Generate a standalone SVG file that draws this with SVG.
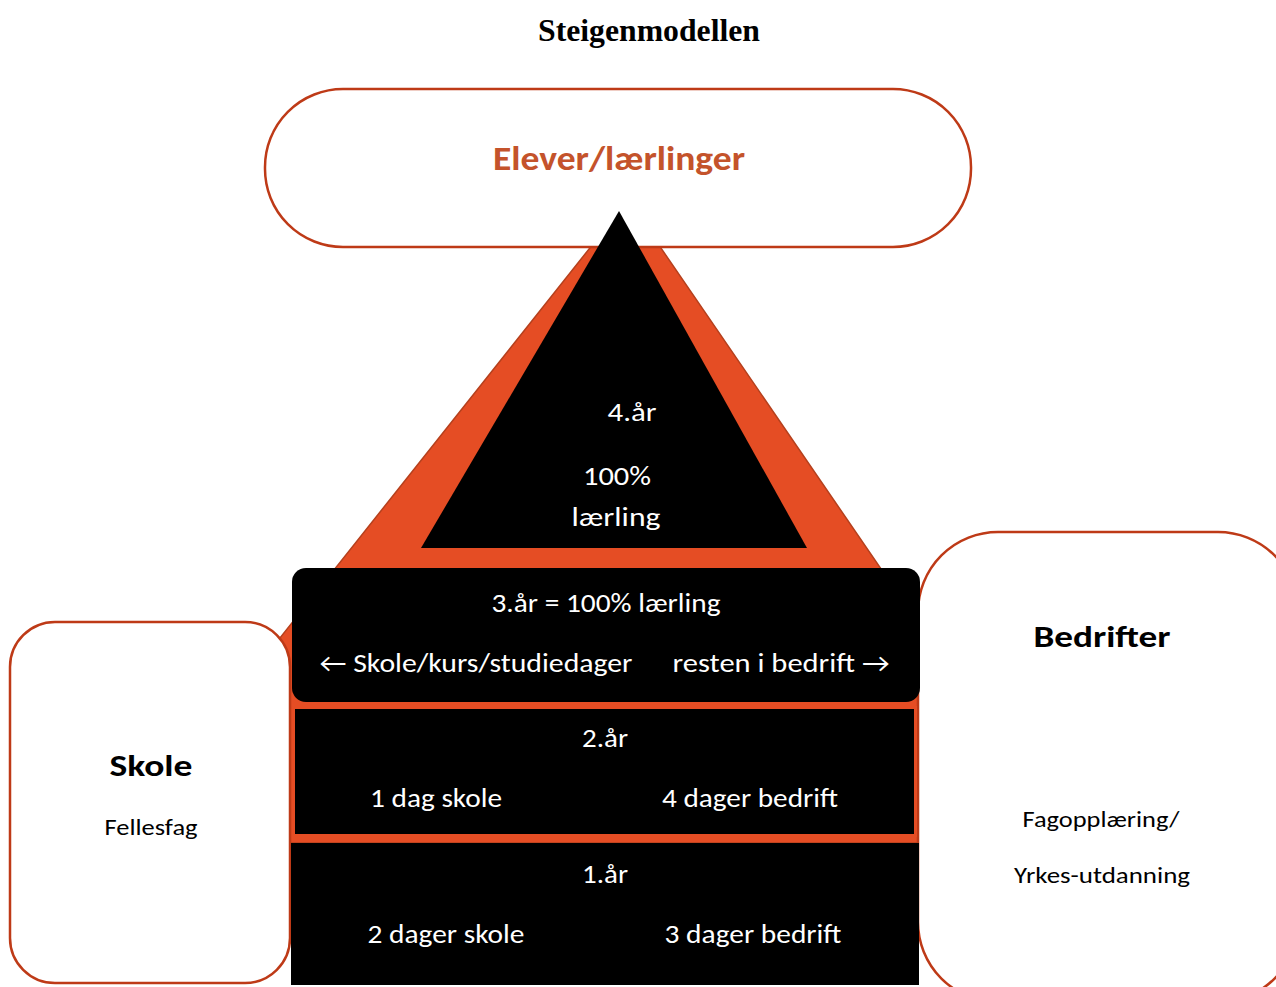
<svg xmlns="http://www.w3.org/2000/svg" width="1276" height="987" viewBox="0 0 1276 987">
<style>
.box{fill:#fff;stroke:#BE3A17;stroke-width:2.5}
.blk{fill:#000}
.w{fill:#fff;font-family:Carlito,Calibri,Lato,"DejaVu Sans",sans-serif;font-size:27px;text-anchor:middle}
.d{fill:#000;font-family:Carlito,Calibri,Lato,sans-serif;font-size:23px;text-anchor:middle}
.h{fill:#000;font-family:Carlito,Calibri,Lato,sans-serif;font-size:31px;font-weight:bold;text-anchor:middle}
</style>
<rect width="1276" height="987" fill="#fff"/>
<g id="title">
<text x="649" y="41" style="font-family:'Liberation Serif','Times New Roman',serif;font-size:31px;font-weight:bold;text-anchor:middle" textLength="222" lengthAdjust="spacingAndGlyphs">Steigenmodellen</text>
</g>
<g id="pyramid-frame">
<polygon points="628,200 117,843 1069,843" fill="#E54D24" stroke="#B5401D" stroke-width="1.5"/>
</g>
<g id="elever">
<rect class="box" x="265" y="89" width="706" height="158" rx="78"/>
<text x="619" y="170" style="fill:#C4532B;font-family:Carlito,Calibri,Lato,sans-serif;font-size:34px;font-weight:bold;text-anchor:middle" textLength="252" lengthAdjust="spacingAndGlyphs">Elever/lærlinger</text>
</g>
<g id="skole">
<rect class="box" x="10" y="622" width="280" height="361" rx="45"/>
<text class="h" x="151" y="776" textLength="83" lengthAdjust="spacingAndGlyphs">Skole</text>
<text class="d" x="151" y="835" textLength="93" lengthAdjust="spacingAndGlyphs">Fellesfag</text>
</g>
<g id="bedrifter">
<rect class="box" x="918" y="532" width="380" height="470" rx="80"/>
<text class="h" x="1102" y="647" textLength="137" lengthAdjust="spacingAndGlyphs">Bedrifter</text>
<text class="d" x="1101" y="827" textLength="157" lengthAdjust="spacingAndGlyphs">Fagopplæring/</text>
<text class="d" x="1102" y="883" textLength="176" lengthAdjust="spacingAndGlyphs">Yrkes-utdanning</text>
</g>
<g id="year4">
<polygon class="blk" points="619,211 421,548 807,548"/>
<text class="w" x="632" y="421" textLength="49" lengthAdjust="spacingAndGlyphs">4.år</text>
<text class="w" x="617" y="485" textLength="68" lengthAdjust="spacingAndGlyphs">100%</text>
<text class="w" x="616" y="526" textLength="89" lengthAdjust="spacingAndGlyphs">lærling</text>
</g>
<g id="year3">
<rect class="blk" x="292" y="568" width="628" height="134" rx="14"/>
<text class="w" x="606" y="612" textLength="229" lengthAdjust="spacingAndGlyphs">3.år = 100% lærling</text>
<text class="w" x="476" y="672" textLength="313" lengthAdjust="spacingAndGlyphs">← Skole/kurs/studiedager</text>
<text class="w" x="781" y="672" textLength="217" lengthAdjust="spacingAndGlyphs">resten i bedrift →</text>
</g>
<g id="year2">
<rect class="blk" x="293.5" y="707.5" width="622" height="128" stroke="#E54D24" stroke-width="3"/>
<text class="w" x="605" y="747" textLength="46" lengthAdjust="spacingAndGlyphs">2.år</text>
<text class="w" x="436" y="807" textLength="132" lengthAdjust="spacingAndGlyphs">1 dag skole</text>
<text class="w" x="750" y="807" textLength="176" lengthAdjust="spacingAndGlyphs">4 dager bedrift</text>
</g>
<g id="year1">
<rect class="blk" x="291" y="843" width="628" height="142"/>
<text class="w" x="605" y="883" textLength="46" lengthAdjust="spacingAndGlyphs">1.år</text>
<text class="w" x="446" y="943" textLength="157" lengthAdjust="spacingAndGlyphs">2 dager skole</text>
<text class="w" x="753" y="943" textLength="177" lengthAdjust="spacingAndGlyphs">3 dager bedrift</text>
</g>
<g id="connectors"/>
</svg>
